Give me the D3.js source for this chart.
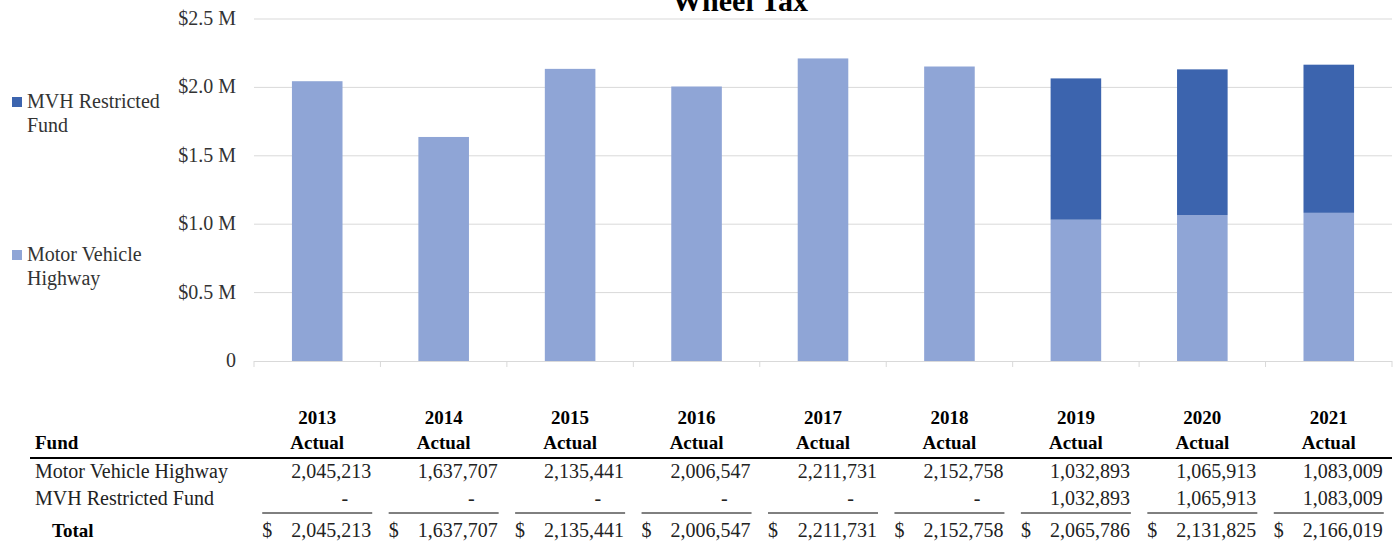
<!DOCTYPE html>
<html>
<head>
<meta charset="utf-8">
<script src="https://cdn.jsdelivr.net/npm/d3@7"></script>
<style>
  body { margin: 0; background: #fff; }
  svg { display: block; font-family: "Liberation Serif", "DejaVu Serif", serif; }
</style>
</head>
<body>
<svg width="1399" height="544"></svg>
<script>
// --- Data ---
const years = ["2013", "2014", "2015", "2016", "2017", "2018", "2019", "2020", "2021"];
const motorVehicleHighway = [2045213, 1637707, 2135441, 2006547, 2211731, 2152758, 1032893, 1065913, 1083009];
const mvhRestricted = [0, 0, 0, 0, 0, 0, 1032893, 1065913, 1083009];
const totals = [2045213, 1637707, 2135441, 2006547, 2211731, 2152758, 2065786, 2131825, 2166019];
const yTicks = [0, 500000, 1000000, 1500000, 2000000, 2500000];
const seriesNames = ["Motor Vehicle Highway", "MVH Restricted Fund"];
const colors = { "Motor Vehicle Highway": "#8fa5d6", "MVH Restricted Fund": "#3c64ae" };

const svg = d3.select("svg");
const plot = { left: 254, right: 1392, top: 19, bottom: 361 };

const x = d3.scaleBand()
    .domain(years)
    .range([plot.left, plot.right])
    .paddingInner(0.6)
    .paddingOuter(0.3);

const y = d3.scaleLinear()
    .domain([0, 2500000])
    .range([plot.bottom, plot.top]);

// title (top is cut off, same as the original)
svg.append("text")
    .attr("x", 740).attr("y", 11)
    .attr("text-anchor", "middle")
    .attr("font-size", 30).attr("font-weight", "bold")
    .text("Wheel Tax");

// gridlines
svg.append("g")
    .selectAll("line")
    .data(yTicks.filter(d => d > 0))
    .enter().append("line")
    .attr("x1", plot.left).attr("x2", plot.right)
    .attr("y1", d => y(d)).attr("y2", d => y(d))
    .attr("stroke", "#d9d9d9").attr("stroke-width", 1);

// y axis labels
svg.append("g")
    .selectAll("text")
    .data(yTicks)
    .enter().append("text")
    .attr("x", 236)
    .attr("y", d => y(d) + 6)
    .attr("text-anchor", "end")
    .attr("font-size", 20)
    .attr("fill", "#333")
    .text(d => d === 0 ? "0" : "$" + (d / 1e6).toFixed(1) + " M");

// stacked bars
const rows = years.map((yr, i) => ({
    year: yr,
    "Motor Vehicle Highway": motorVehicleHighway[i],
    "MVH Restricted Fund": mvhRestricted[i]
}));
const stacked = d3.stack().keys(seriesNames)(rows);

svg.append("g")
    .selectAll("g")
    .data(stacked)
    .enter().append("g")
    .attr("fill", d => colors[d.key])
    .selectAll("rect")
    .data(d => d)
    .enter().append("rect")
    .attr("x", d => x(d.data.year))
    .attr("width", x.bandwidth())
    .attr("y", d => y(d[1]))
    .attr("height", d => y(d[0]) - y(d[1]));

// category axis
const step = x.step();
svg.append("line")
    .attr("x1", plot.left).attr("x2", plot.right)
    .attr("y1", plot.bottom + 0.5).attr("y2", plot.bottom + 0.5)
    .attr("stroke", "#d9d9d9").attr("stroke-width", 1);
svg.append("g")
    .selectAll("line")
    .data(d3.range(years.length + 1))
    .enter().append("line")
    .attr("x1", i => plot.left + i * step).attr("x2", i => plot.left + i * step)
    .attr("y1", plot.bottom).attr("y2", plot.bottom + 6)
    .attr("stroke", "#d9d9d9").attr("stroke-width", 1);

// legend
const legendItems = [
    { key: "MVH Restricted Fund", lines: ["MVH Restricted", "Fund"], y: 108 },
    { key: "Motor Vehicle Highway", lines: ["Motor Vehicle", "Highway"], y: 261 }
];
const leg = svg.append("g").selectAll("g").data(legendItems).enter().append("g");
leg.append("rect")
    .attr("x", 12).attr("y", d => d.y - 11)
    .attr("width", 10).attr("height", 10)
    .attr("fill", d => colors[d.key]);
leg.append("text")
    .attr("font-size", 20).attr("fill", "#333")
    .selectAll("tspan")
    .data(d => d.lines.map((t, j) => ({ t, y: d.y + j * 24 })))
    .enter().append("tspan")
    .attr("x", 27).attr("y", d => d.y)
    .text(d => d.t);

// --- Table ---
const fmt = d3.format(",");
const cx = d => x(d) + x.bandwidth() / 2;
const table = svg.append("g").attr("font-size", 20);

table.append("text").attr("x", 35).attr("y", 449)
    .attr("font-weight", "bold").attr("font-size", 19).text("Fund");

const head = table.append("g").selectAll("text").data(years).enter().append("text")
    .attr("text-anchor", "middle").attr("font-weight", "bold").attr("font-size", 19);
head.append("tspan").attr("x", cx).attr("y", 424).text(d => d);
head.append("tspan").attr("x", cx).attr("y", 449).text("Actual");

table.append("line")
    .attr("x1", 30).attr("x2", plot.right)
    .attr("y1", 458).attr("y2", 458)
    .attr("stroke", "#000").attr("stroke-width", 2);

const dataRows = [
    { label: "Motor Vehicle Highway", values: motorVehicleHighway, y: 478 },
    { label: "MVH Restricted Fund", values: mvhRestricted, y: 505 }
];
dataRows.forEach(r => {
    table.append("text").attr("x", 35).attr("y", r.y).attr("fill", "#222").text(r.label);
    table.append("g").selectAll("text").data(years).enter().append("text")
        .attr("x", (d, i) => cx(d) + (r.values[i] === 0 ? 31 : 54))
        .attr("y", r.y)
        .attr("text-anchor", "end")
        .attr("fill", "#222")
        .text((d, i) => r.values[i] === 0 ? "-" : fmt(r.values[i]));
});

// underline above totals
table.append("g").selectAll("line").data(years).enter().append("line")
    .attr("x1", d => cx(d) - 55).attr("x2", d => cx(d) + 55)
    .attr("y1", 513).attr("y2", 513)
    .attr("stroke", "#000").attr("stroke-width", 1);

table.append("text").attr("x", 52).attr("y", 537)
    .attr("font-weight", "bold").attr("font-size", 19).text("Total");
table.append("g").selectAll("text").data(years).enter().append("text")
    .attr("x", d => cx(d) - 55).attr("y", 537).attr("fill", "#222").text("$");
table.append("g").selectAll("text").data(years).enter().append("text")
    .attr("x", d => cx(d) + 54).attr("y", 537)
    .attr("text-anchor", "end").attr("fill", "#222")
    .text((d, i) => fmt(totals[i]));
</script>
</body>
</html>
